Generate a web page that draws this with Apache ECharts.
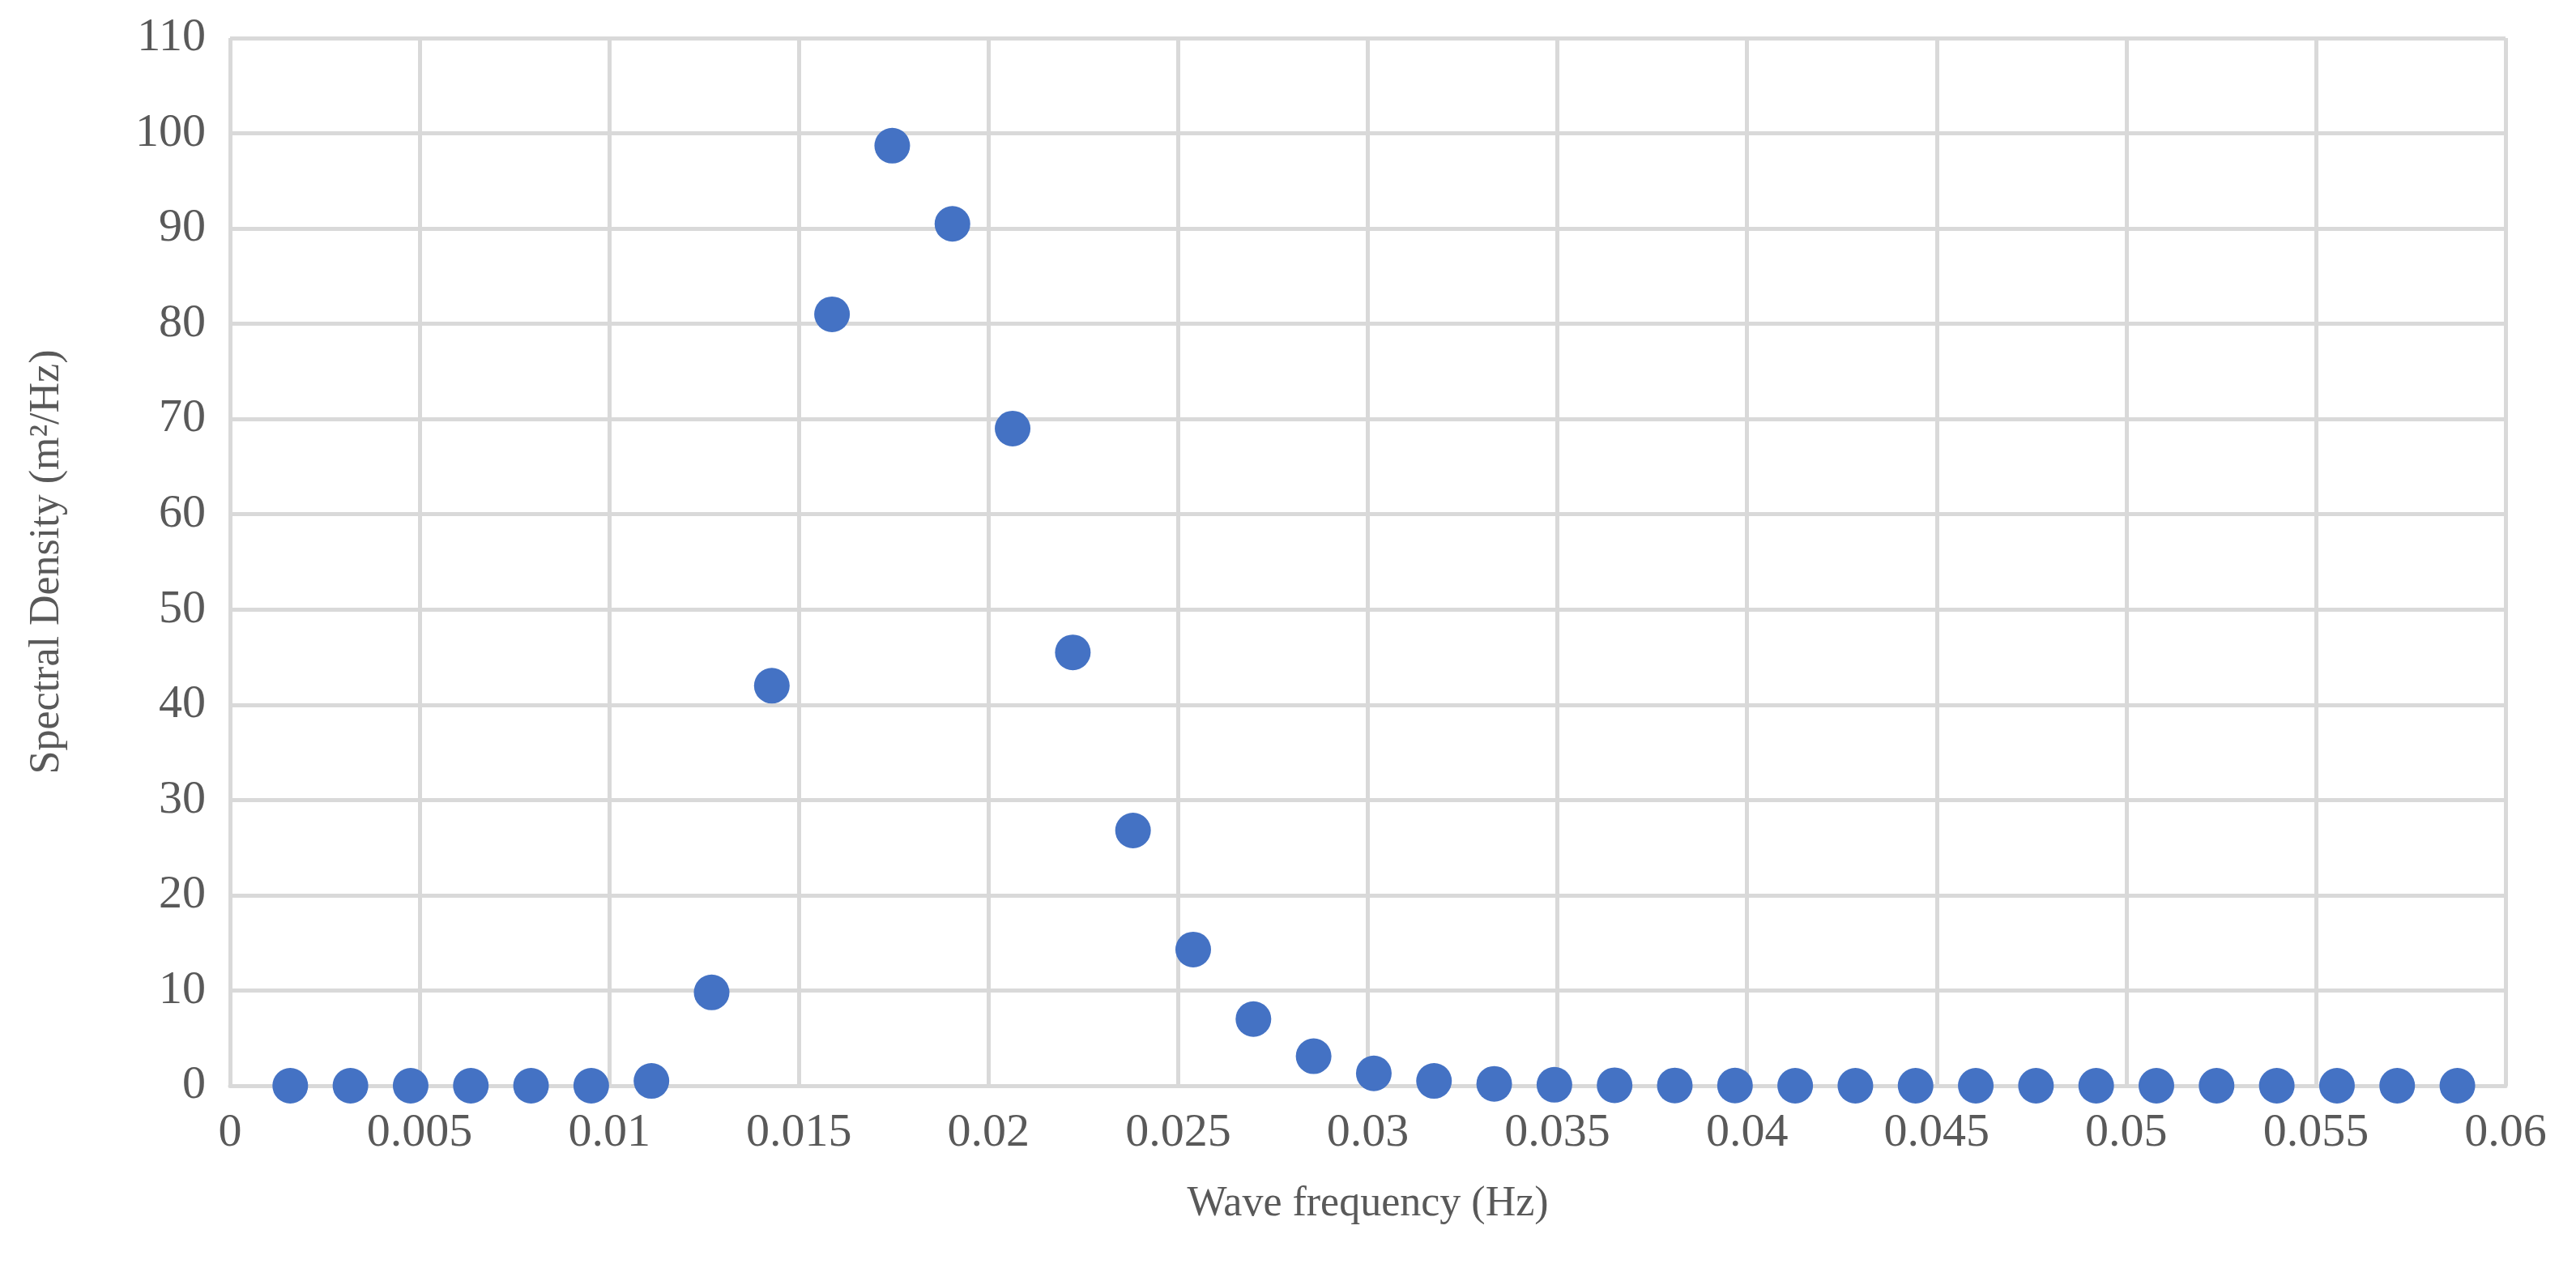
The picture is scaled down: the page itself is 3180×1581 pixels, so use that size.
<!DOCTYPE html>
<html>
<head>
<meta charset="utf-8">
<script src="https://cdn.jsdelivr.net/npm/echarts@6/dist/echarts.min.js"></script>
<style>html,body{margin:0;padding:0;background:#fff}#chart{width:3180px;height:1581px}</style>
</head>
<body>
<div id="chart"></div>
<script>
// frequency step is 1/630 Hz
var freqs = [];
for (var i = 1; i <= 37; i++) freqs.push(i / 630);
var density = [0, 0, 0, 0, 0, 0, 0.5, 9.8, 42, 81, 98.7, 90.5, 69, 45.5, 26.8, 14.3, 7, 3.1, 1.3, 0.5, 0.2, 0.1, 0.05, 0.03, 0.02, 0, 0, 0, 0, 0, 0, 0, 0, 0, 0, 0, 0];

var points = freqs.map(function (f, i) { return [f, density[i]]; });

var font = 'Liberation Serif, Times New Roman, serif';
var chart = echarts.init(document.getElementById('chart'));
chart.setOption({
    animation: false,
    grid: { left: 284, right: 87, top: 47, bottom: 241 },
    xAxis: {
        type: 'value', min: 0, max: 0.06, interval: 0.005,
        name: 'Wave frequency (Hz)', nameLocation: 'middle', nameGap: 120,
        nameTextStyle: { fontFamily: font, fontSize: 52, color: '#595959' },
        axisLine: { show: true, lineStyle: { color: '#d9d9d9', width: 5 } },
        axisTick: { show: false },
        axisLabel: { fontFamily: font, fontSize: 58, color: '#595959', margin: 30 },
        splitLine: { lineStyle: { color: '#d9d9d9', width: 5 } }
    },
    yAxis: {
        type: 'value', min: 0, max: 110, interval: 10,
        name: 'Spectral Density (m\u00b2/Hz)', nameLocation: 'middle', nameGap: 200,
        nameTextStyle: { fontFamily: font, fontSize: 52, color: '#595959' },
        axisLine: { show: false },
        axisTick: { show: false },
        axisLabel: { fontFamily: font, fontSize: 58, color: '#595959', margin: 30 },
        splitLine: { lineStyle: { color: '#d9d9d9', width: 5 } }
    },
    series: [{
        type: 'scatter',
        data: points,
        symbolSize: 44,
        itemStyle: { color: '#4472C4', opacity: 1 }
    }]
});
</script>
</body>
</html>
